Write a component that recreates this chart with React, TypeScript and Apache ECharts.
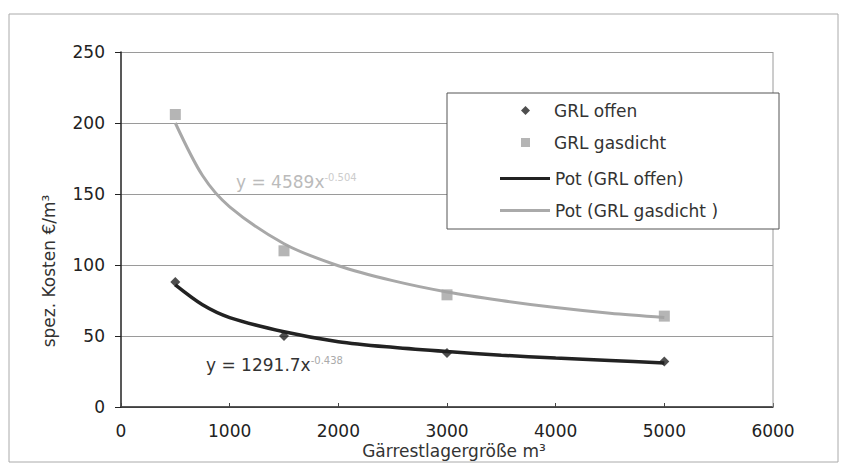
import React, { useEffect, useRef } from "react";
import * as echarts from "echarts";

const xTicks = [0, 1000, 2000, 3000, 4000, 5000, 6000];
const yTicks = [0, 50, 100, 150, 200, 250];

const offenX = [500, 1500, 3000, 5000];
const offenY = [88, 50, 38, 32];
const gasdichtX = [500, 1500, 3000, 5000];
const gasdichtY = [206, 110, 79, 64];

// trendline points
const trendX = [500, 750, 1000, 1500, 2000, 2500, 3000, 3500, 4000, 4500, 5000];
const trendOffenY = [86, 72, 63, 53, 46, 42, 39, 36.5, 34.5, 32.7, 31];
const trendGasdichtY = [200, 163, 141, 115, 99.5, 89, 81, 75, 70, 66, 63];

const seriesNames = ["GRL offen", "GRL gasdicht", "Pot (GRL offen)", "Pot (GRL gasdicht )"];

const FONT = "'DejaVu Sans', sans-serif";

export default function App() {
  const ref = useRef<HTMLDivElement>(null);
  useEffect(() => {
    const chart = echarts.init(ref.current!, null, { renderer: "svg" });
    const zip = (xs: number[], ys: number[]) => xs.map((x, i) => [x, ys[i]]);
    chart.setOption({
      animation: false,
      backgroundColor: "#fff",
      textStyle: { fontFamily: FONT },
      grid: { left: 121, right: 70, top: 52, bottom: 57 },
      xAxis: {
        type: "value",
        min: xTicks[0],
        max: xTicks[xTicks.length - 1],
        interval: 1000,
        axisLine: { lineStyle: { color: "#222", width: 1.5 } },
        axisTick: { show: true, inside: true, length: 4, lineStyle: { color: "#444" } },
        axisLabel: {
          color: "#222",
          fontSize: 17,
          margin: 15,
          fontFamily: FONT,
          formatter: (v: number) => String(v),
        },
        splitLine: { show: false },
      },
      yAxis: {
        type: "value",
        min: yTicks[0],
        max: yTicks[yTicks.length - 1],
        interval: 50,
        axisLine: { show: true, lineStyle: { color: "#222", width: 1.5 } },
        axisTick: { show: true, length: 6, lineStyle: { color: "#222" } },
        axisLabel: { color: "#222", fontSize: 17, margin: 16, fontFamily: FONT },
        splitLine: { show: true, lineStyle: { color: "#9a9a9a", width: 1 } },
      },
      legend: [
        {
          orient: "vertical",
          left: 516,
          top: 97,
          itemWidth: 9,
          itemHeight: 9,
          itemGap: 15,
          data: [
            { name: seriesNames[0], icon: "diamond" },
            { name: seriesNames[1], icon: "rect" },
          ],
          textStyle: { color: "#333", fontSize: 17, padding: [0, 0, 0, 19], fontFamily: FONT },
          z: 5,
        },
        {
          orient: "vertical",
          left: 495,
          top: 165,
          itemWidth: 50,
          itemHeight: 3,
          itemGap: 15,
          data: [
            { name: seriesNames[2], icon: "rect", itemStyle: { color: "#222" } },
            { name: seriesNames[3], icon: "rect", itemStyle: { color: "#aaa" } },
          ],
          textStyle: { color: "#333", fontSize: 17, fontFamily: FONT },
          z: 5,
        },
      ],
      graphic: [
        {
          type: "rect",
          z: 3,
          shape: { x: 447, y: 93, width: 332, height: 136 },
          style: { fill: "#fff", stroke: "#555", lineWidth: 1 },
        },
        {
          type: "rect",
          z: 0,
          shape: { x: 9, y: 14, width: 829, height: 448 },
          style: { fill: "none", stroke: "#aaa", lineWidth: 1 },
        },
        {
          type: "line",
          z: 1,
          shape: { x1: 773, y1: 52, x2: 773, y2: 407 },
          style: { stroke: "#9a9a9a", lineWidth: 1 },
        },
        {
          type: "text",
          z: 5,
          x: 49,
          y: 271,
          rotation: Math.PI / 2,
          style: {
            text: "spez. Kosten €/m³",
            fontSize: 17,
            fontFamily: FONT,
            fill: "#333",
            align: "center",
            verticalAlign: "middle",
          },
        },
        {
          type: "text",
          z: 5,
          x: 454,
          y: 451,
          style: {
            text: "Gärrestlagergröße m³",
            fontSize: 17,
            fontFamily: FONT,
            fill: "#333",
            align: "center",
            verticalAlign: "middle",
          },
        },
        {
          type: "text",
          z: 5,
          x: 236,
          y: 182,
          style: {
            text: "{a|y = 4589x}{b|-0.504}",
            fontFamily: FONT,
            verticalAlign: "middle",
            rich: {
              a: { fontSize: 17, fill: "#bbb", fontFamily: FONT },
              b: { fontSize: 10, fill: "#ccc", verticalAlign: "top", padding: [0, 0, 10, 0], fontFamily: FONT },
            },
          },
        },
        {
          type: "text",
          z: 5,
          x: 206,
          y: 365,
          style: {
            text: "{a|y = 1291.7x}{b|-0.438}",
            fontFamily: FONT,
            verticalAlign: "middle",
            rich: {
              a: { fontSize: 17, fill: "#333", fontFamily: FONT },
              b: { fontSize: 10, fill: "#aaa", verticalAlign: "top", padding: [0, 0, 10, 0], fontFamily: FONT },
            },
          },
        },
      ],
      series: [
        {
          name: seriesNames[0],
          type: "scatter",
          symbol: "diamond",
          symbolSize: 10,
          itemStyle: { color: "#222" },
          data: zip(offenX, offenY),
          z: 4,
        },
        {
          name: seriesNames[1],
          type: "scatter",
          symbol: "rect",
          symbolSize: 11,
          itemStyle: { color: "#a3a3a3" },
          data: zip(gasdichtX, gasdichtY),
          z: 4,
        },
        {
          name: seriesNames[2],
          type: "line",
          smooth: 0.3,
          symbol: "none",
          lineStyle: { color: "#222", width: 3.5 },
          itemStyle: { color: "#222" },
          data: zip(trendX, trendOffenY),
          z: 2,
        },
        {
          name: seriesNames[3],
          type: "line",
          smooth: 0.3,
          symbol: "none",
          lineStyle: { color: "#a8a8a8", width: 3 },
          itemStyle: { color: "#a8a8a8" },
          data: zip(trendX, trendGasdichtY),
          z: 2,
        },
      ],
    });
    return () => chart.dispose();
  }, []);
  return <div ref={ref} style={{ width: 843, height: 464, position: "absolute", left: 0, top: 0 }} />;
}
